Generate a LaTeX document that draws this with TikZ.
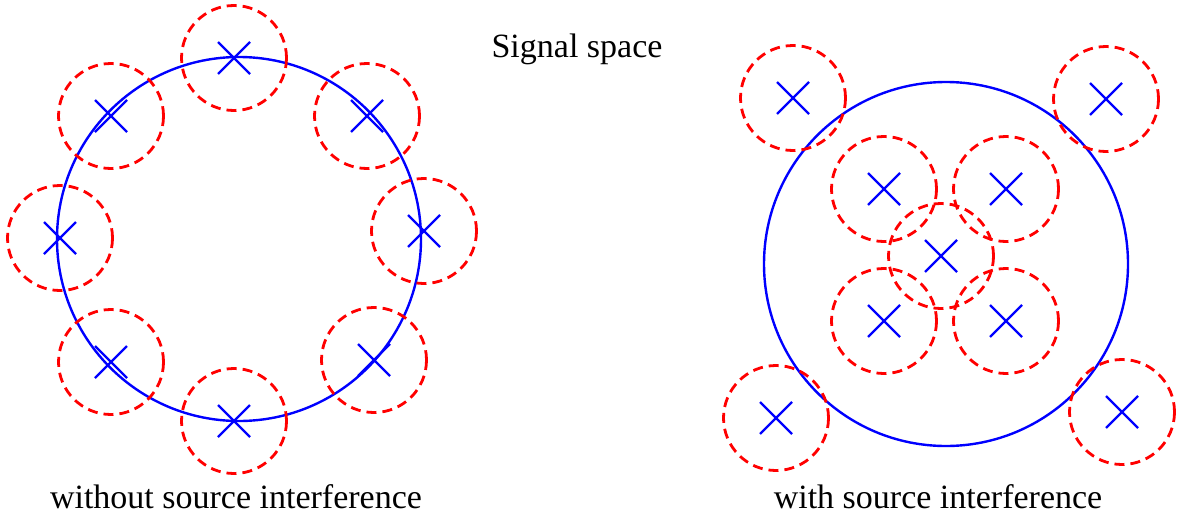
\documentclass[tikz,border=0pt]{standalone}
\usepackage{fontspec}
\setmainfont{Liberation Serif}
\begin{document}
\begin{tikzpicture}[x=1pt,y=-1pt,
  ring/.style={draw=blue,line width=2.4pt},
  zone/.style={draw=red,line width=2.8pt,dash pattern=on 10pt off 6pt},
  xmark/.style={draw=blue,line width=2.4pt},
  lbl/.style={font=\fontsize{34}{40}\selectfont,anchor=base,inner sep=0pt}]
\useasboundingbox (0,0) rectangle (1183,514);
\draw[ring] (239,239) circle[radius=182];
\draw[ring] (946,264) circle[radius=182];
\foreach \x/\y in {234/58,111/116,367/116,60/238,424/231,111/362,374/360,234/421,
                   793/98,1106/99,884/189,1006/189,941/256,884/321,1006/321,776/418,1122/412}{
  \draw[zone] (\x,\y) circle[radius=52.5];
  \draw[xmark] (\x-16,\y-16) -- (\x+16,\y+16) (\x-16,\y+16) -- (\x+16,\y-16);
}
\node[lbl] (title) at (577,57) {Signal space};
\node[lbl] (left) at (236,508) {without source interference};
\node[lbl] (right) at (938,508) {with source interference};
\end{tikzpicture}
\end{document}
